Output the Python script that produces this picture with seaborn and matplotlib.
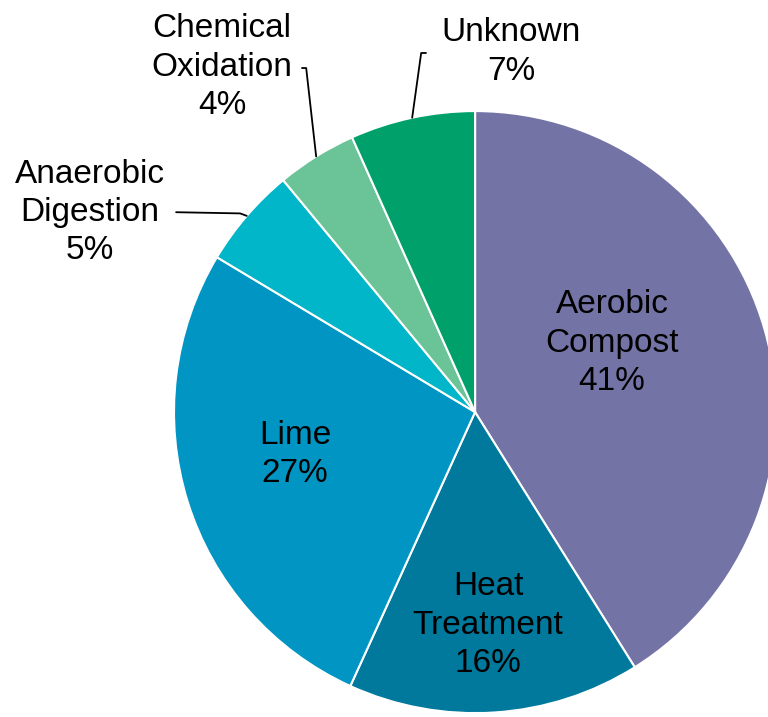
import numpy as np
import matplotlib
matplotlib.use('Agg')
import matplotlib.pyplot as plt
import seaborn as sns

# ============ Data ============
categories = ['Aerobic\nCompost', 'Heat\nTreatment', 'Lime', 'Anaerobic\nDigestion',
              'Chemical\nOxidation', 'Unknown']
shares = [41.1, 15.7, 26.8, 5.4, 4.3, 6.7]
colors = ['#7373A6', '#00799C', '#0095C3', '#00B6C8', '#6BC497', '#00A06B']

# ============ Style ============
sns.set_theme(style='white')
plt.rcParams['font.family'] = ['Liberation Sans', 'DejaVu Sans']

fig = plt.figure(figsize=(7.68, 7.17), dpi=100)
ax = fig.add_axes([0, 0, 1, 1])

wedges, _ = ax.pie(shares, colors=colors, startangle=90, counterclock=False,
                   wedgeprops=dict(edgecolor='white', linewidth=1.5))

labels = [f'{c}\n{v:.0f}%' for c, v in zip(categories, shares)]

# label placement (axes data units, pie radius = 1)
label_pos = [(0.455, 0.229), (0.043, -0.708), (-0.598, -0.14),
             (-1.279, 0.664), (-0.84, 1.146), (0.12, 1.196)]
# leader lines for the small outside slices: start point (+ elbow)
leaders = {3: [(-0.993, 0.664), (-0.78, 0.660)],
           4: [(-0.575, 1.143), (-0.561, 1.143)],
           5: [(-0.163, 1.193), (-0.179, 1.193)]}

for i, (txt, (x, y)) in enumerate(zip(labels, label_pos)):
    ax.text(x, y, txt, ha='center', va='center', fontsize=24,
            color='black', linespacing=1.3)
    if i in leaders:
        w = wedges[i]
        theta = np.deg2rad((w.theta1 + w.theta2) / 2)
        end = (np.cos(theta), np.sin(theta))
        pts = leaders[i] + [end]
        ax.plot([p[0] for p in pts], [p[1] for p in pts], color='black', lw=1.3)

ax.set_xlim(-1.578, 0.973)
ax.set_ylim(-1.013, 1.369)
ax.set_aspect('auto')
ax.axis('off')

fig.savefig('out.png', dpi=100)
